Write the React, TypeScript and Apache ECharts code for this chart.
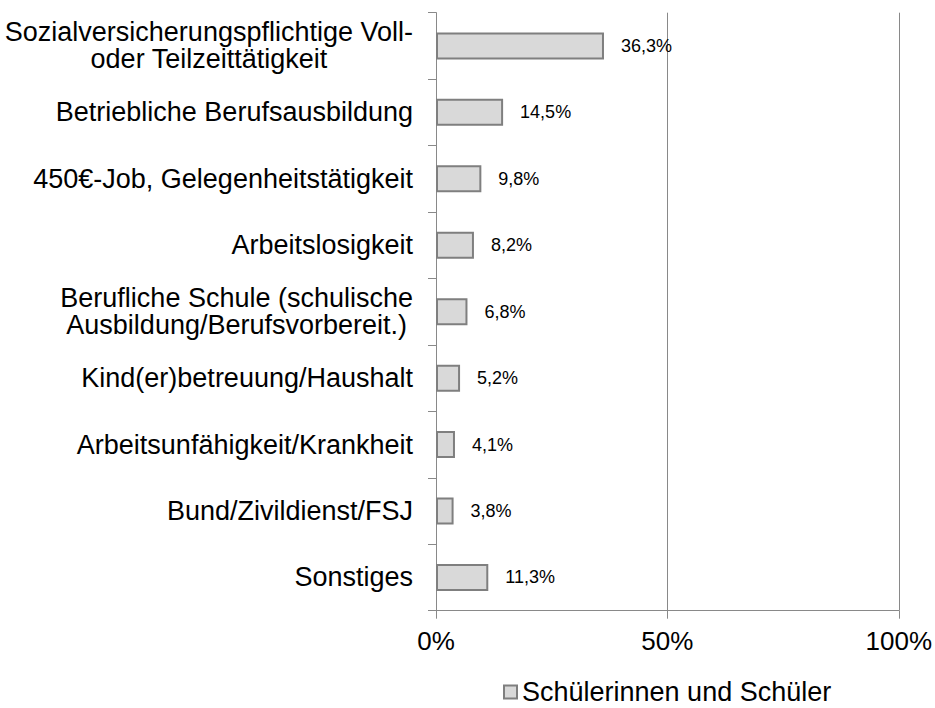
import React, { useEffect, useRef } from "react";
import * as echarts from "echarts";

const categories = [
  "Sozialversicherungspflichtige Voll-\noder Teilzeittätigkeit",
  "Betriebliche Berufsausbildung",
  "450€-Job, Gelegenheitstätigkeit",
  "Arbeitslosigkeit",
  "Berufliche Schule (schulische\nAusbildung/Berufsvorbereit.)",
  "Kind(er)betreuung/Haushalt",
  "Arbeitsunfähigkeit/Krankheit",
  "Bund/Zivildienst/FSJ",
  "Sonstiges",
];
const values = [36.3, 14.5, 9.8, 8.2, 6.8, 5.2, 4.1, 3.8, 11.3];
const seriesName = "Schülerinnen und Schüler";

const FONT = "'Liberation Sans', Arial, sans-serif";
const AXIS_COLOR = "#898989";

export default function App() {
  const ref = useRef<HTMLDivElement>(null);
  useEffect(() => {
    if (!ref.current) return;
    const chart = echarts.init(ref.current, null, { renderer: "svg" });
    chart.setOption({
      animation: false,
      textStyle: { fontFamily: FONT },
      grid: { left: 436, right: 35, top: 12.7, bottom: 97.3, containLabel: false },
      legend: {
        data: [seriesName],
        left: 498,
        top: 677,
        padding: [0, 5, 0, 5],
        icon: "rect",
        itemWidth: 13,
        itemHeight: 13,
        itemGap: 10,
        textStyle: { fontSize: 27, lineHeight: 30, color: "#000", fontFamily: FONT },
      },
      xAxis: {
        type: "value",
        min: 0,
        max: 100,
        interval: 50,
        axisLine: { show: true, lineStyle: { color: AXIS_COLOR, width: 1 } },
        axisTick: { show: true, length: 8, lineStyle: { color: AXIS_COLOR } },
        splitLine: { show: true, lineStyle: { color: AXIS_COLOR, width: 1 } },
        axisLabel: {
          formatter: "{value}%",
          fontSize: 26,
          color: "#000",
          margin: 17,
          fontFamily: FONT,
        },
      },
      yAxis: {
        type: "category",
        data: categories,
        inverse: true,
        axisLine: { show: true, lineStyle: { color: AXIS_COLOR, width: 1 } },
        axisTick: { show: true, length: 8, lineStyle: { color: AXIS_COLOR } },
        splitLine: { show: false },
        axisLabel: {
          interval: 0,
          margin: 23,
          formatter: (v: string) =>
            v
              .split("\n")
              .map((l) => `{c|${l}}`)
              .join("\n"),
          rich: {
            c: {
              fontSize: 27,
              lineHeight: 27,
              color: "#000",
              align: "center",
              fontFamily: FONT,
            },
          },
        },
      },
      series: [
        {
          name: seriesName,
          type: "bar",
          data: values,
          barWidth: 27,
          itemStyle: { color: "#d9d9d9", borderColor: "#7f7f7f", borderWidth: 2 },
          label: {
            show: true,
            position: "right",
            distance: 17,
            fontSize: 18,
            color: "#000",
            fontFamily: FONT,
            formatter: (p: any) => `${p.value.toFixed(1).replace(".", ",")}%`,
          },
        },
      ],
    });
    return () => chart.dispose();
  }, []);
  return <div ref={ref} style={{ width: 935, height: 708, position: "absolute", left: 0, top: 0 }} />;
}
